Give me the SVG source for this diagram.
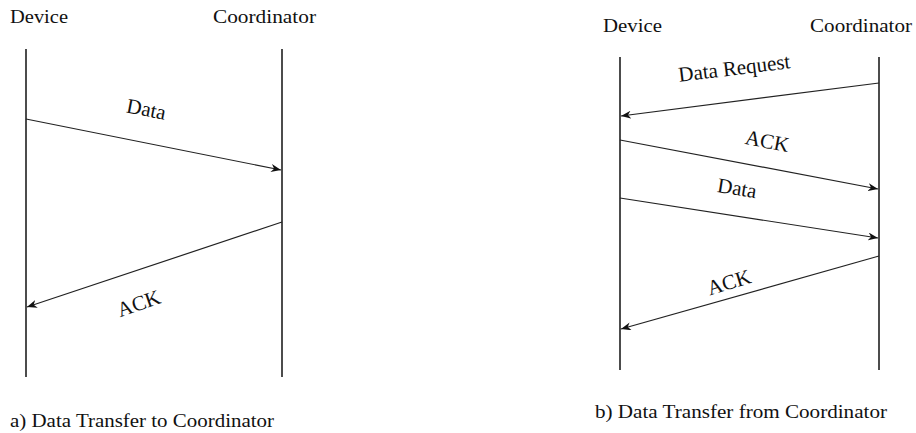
<svg xmlns="http://www.w3.org/2000/svg" width="916" height="433" viewBox="0 0 916 433">
  <style>
    text { font-family: "Liberation Serif", "Times New Roman", serif; fill: #111; }
    .head { font-size: 19px; }
    .msg { font-size: 21px; text-anchor: middle; }
    .cap { font-size: 19px; }
    .life { stroke: #111; stroke-width: 1.5; fill: none; }
    .arrow { stroke: #222; stroke-width: 1.2; fill: none; marker-end: url(#tip); }
  </style>
  <defs>
    <marker id="tip" viewBox="0 0 10 8" refX="10" refY="4" markerWidth="10" markerHeight="8" markerUnits="userSpaceOnUse" orient="auto">
      <path d="M0,0 L10,4 L0,8 L3,4 Z" fill="#111"/>
    </marker>
  </defs>
  <rect width="916" height="433" fill="#fff"/>

  <!-- a) Data transfer to coordinator -->
  <g id="a-device">
    <text class="head" x="10" y="23" textLength="58" lengthAdjust="spacingAndGlyphs">Device</text>
    <line class="life" x1="26" y1="49" x2="26" y2="377"/>
  </g>
  <g id="a-coordinator">
    <text class="head" x="213" y="23" textLength="103" lengthAdjust="spacingAndGlyphs">Coordinator</text>
    <line class="life" x1="282" y1="49" x2="282" y2="377"/>
  </g>
  <g id="a-caption">
    <text class="cap" x="10" y="427" textLength="264" lengthAdjust="spacingAndGlyphs">a) Data Transfer to Coordinator</text>
  </g>

  <!-- b) Data transfer from coordinator -->
  <g id="b-device">
    <text class="head" x="603" y="32" textLength="59" lengthAdjust="spacingAndGlyphs">Device</text>
    <line class="life" x1="620" y1="57" x2="620" y2="370"/>
  </g>
  <g id="b-coordinator">
    <text class="head" x="810" y="32" textLength="102" lengthAdjust="spacingAndGlyphs">Coordinator</text>
    <line class="life" x1="879" y1="57" x2="879" y2="370"/>
  </g>
  <g id="b-caption">
    <text class="cap" x="595" y="418" textLength="292" lengthAdjust="spacingAndGlyphs">b) Data Transfer from Coordinator</text>
  </g>

  <g id="connectors">
    <!-- panel a -->
    <line class="arrow" x1="26" y1="119" x2="281" y2="170"/>
    <text class="msg" transform="translate(145,116) rotate(11)">Data</text>
    <line class="arrow" x1="282" y1="222" x2="27" y2="307"/>
    <text class="msg" transform="translate(141,310) rotate(-19)">ACK</text>

    <!-- panel b -->
    <line class="arrow" x1="879" y1="83" x2="621" y2="116"/>
    <text class="msg" transform="translate(735,75) rotate(-7)">Data Request</text>
    <line class="arrow" x1="620" y1="140" x2="878" y2="189"/>
    <text class="msg" transform="translate(766,148) rotate(11)">ACK</text>
    <line class="arrow" x1="620" y1="198" x2="878" y2="238"/>
    <text class="msg" transform="translate(736,195) rotate(9)">Data</text>
    <line class="arrow" x1="879" y1="256" x2="621" y2="329"/>
    <text class="msg" transform="translate(731,289) rotate(-17)">ACK</text>
  </g>
</svg>
